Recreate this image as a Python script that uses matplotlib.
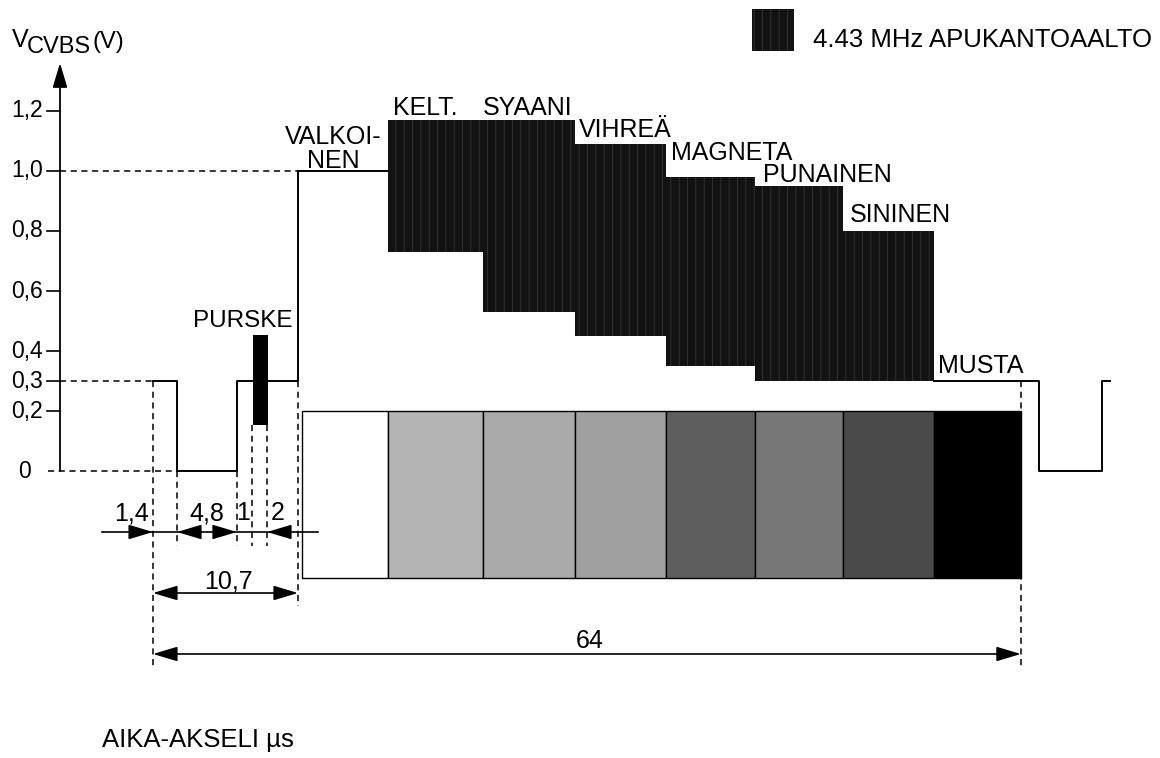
import matplotlib.pyplot as plt
from matplotlib.patches import Rectangle

plt.rcParams['font.family'] = ['Liberation Sans', 'DejaVu Sans']
plt.rcParams['hatch.linewidth'] = 0.5

# color bar signal, time in microseconds, level in volts
bar_names = ['VALKOI-\nNEN', 'KELT.', 'SYAANI', 'VIHREÄ', 'MAGNETA', 'PUNAINEN', 'SININEN', 'MUSTA']
bar_edges = [10.7, 17.3, 24.3, 31.1, 37.8, 44.4, 50.9, 57.6, 64.0]
chroma_top = [None, 1.17, 1.17, 1.09, 0.98, 0.95, 0.80, None]
chroma_bot = [None, 0.73, 0.53, 0.45, 0.35, 0.30, 0.30, None]
box_left = 11.0
box_top, box_bot = 0.2, -0.357

# visible luminance trace (white bar part + line end)
trace1_t = [0.0, 1.77, 1.77, 6.19, 6.19, 10.69, 10.69, 17.3]
trace1_v = [0.3, 0.3, 0.0, 0.0, 0.3, 0.3, 1.0, 1.0]
trace2_t = [57.6, 65.34, 65.34, 69.99, 69.99, 70.58]
trace2_v = [0.3, 0.3, 0.0, 0.0, 0.3, 0.3]

burst_t = (7.35, 8.45)
burst_v = (0.153, 0.453)

ytick_vals = [1.2, 1.0, 0.8, 0.6, 0.4, 0.3, 0.2, 0.0]
ytick_labels = ['1,2', '1,0', '0,8', '0,6', '0,4', '0,3', '0,2', '0']

# timing dimensions
dim_marks = [0.0, 1.77, 6.19, 7.3, 8.41, 10.69]
dim_labels = ['1,4', '4,8', '1', '2']
dim_label_t = [-1.55, 3.98, 6.64, 9.22]
total_line = 64.0

fig = plt.figure(figsize=(11.6, 7.58), dpi=100)
ax = fig.add_axes([0, 0, 1, 1])
ax.axis('off')


def tx(px):
    return (px - 153) / 13.56


def vy(py):
    return (471 - py) / 300


ax.set_xlim(tx(0), tx(1160))
ax.set_ylim(vy(758), vy(0))

fs = 18
ax_x = tx(60)

head = dict(arrowstyle='-|>,head_length=1.5,head_width=0.45', color='black', lw=1.2,
            shrinkA=0, shrinkB=0, mutation_scale=10)
both = dict(head, arrowstyle='<|-|>,head_length=1.5,head_width=0.45')

# y axis with arrow
ax.annotate('', xy=(ax_x, vy(63)), xytext=(ax_x, 0), arrowprops=dict(head, lw=1.3))
for v, lab in zip(ytick_vals, ytick_labels):
    if v > 0:
        ax.plot([tx(47), ax_x], [v, v], color='black', lw=1.2)
    ax.text(tx(27) if v > 0 else tx(24), v, lab, ha='center', va='center', fontsize=16.5)

ax.text(tx(12), vy(47), 'V', fontsize=fs, ha='left', va='baseline')
ax.text(tx(27), vy(53), 'CVBS', fontsize=fs - 1, ha='left', va='baseline')
ax.text(tx(92), vy(48), '(V)', fontsize=fs - 1, ha='left', va='baseline')

# dashed guide lines
dash = dict(color='black', lw=1.1, ls=(0, (4, 3)))
ax.plot([tx(48), 1.77], [0, 0], **dash)
ax.plot([ax_x, 0], [0.3, 0.3], **dash)
ax.plot([ax_x, 10.69], [1.0, 1.0], **dash)
ax.plot([0, 0], [0.3, vy(667)], **dash)
ax.plot([total_line, total_line], [0.3, vy(667)], **dash)
ax.plot([10.69, 10.69], [0.3, vy(606)], **dash)
for t in [1.77, 6.19]:
    ax.plot([t, t], [0, vy(546)], **dash)
for t in [7.3, 8.41]:
    ax.plot([t, t], [burst_v[0], vy(546)], **dash)

# luminance trace
ax.plot(trace1_t, trace1_v, color='black', lw=1.4)
ax.plot(trace2_t, trace2_v, color='black', lw=1.4)

# burst
ax.add_patch(Rectangle((burst_t[0], burst_v[0]), burst_t[1] - burst_t[0],
                       burst_v[1] - burst_v[0], facecolor='black', edgecolor='none', zorder=3))
ax.text(tx(193), vy(327), 'PURSKE', fontsize=fs - 0.5, ha='left', va='baseline')

# chroma blocks (speckled dark)
for i in range(len(bar_names)):
    if chroma_top[i] is None:
        continue
    x0, x1 = bar_edges[i], bar_edges[i + 1]
    ax.add_patch(Rectangle((x0, chroma_bot[i]), x1 - x0, chroma_top[i] - chroma_bot[i],
                           facecolor='#121212', edgecolor='#3c3c3c', lw=0, hatch='||',
                           zorder=2))

# lower colour boxes
box_grey = ['white', '#b4b4b4', '#aaaaaa', '#a0a0a0', '#5e5e5e', '#777777', '#4a4a4a', 'black']
for i in range(len(bar_names)):
    x0 = box_left if i == 0 else bar_edges[i]
    x1 = bar_edges[i + 1]
    ax.add_patch(Rectangle((x0, box_bot), x1 - x0, box_top - box_bot,
                           facecolor=box_grey[i], edgecolor='black', lw=1.0, zorder=2))

# bar names
name_pos = [(333, 168, 'center'), (393, 115, 'left'), (483, 115, 'left'), (579, 137, 'left'),
            (671, 160, 'left'), (763, 182, 'left'), (850, 222, 'left'), (938, 373, 'left')]
for name, (px, py, ha) in zip(bar_names, name_pos):
    ax.text(tx(px), vy(py), name, fontsize=fs, ha=ha, va='baseline', linespacing=1.0,
            multialignment='center')

# legend
ax.add_patch(Rectangle((tx(752), vy(51)), tx(794) - tx(752), vy(9) - vy(51),
                       facecolor='#121212', edgecolor='#3c3c3c', lw=0, hatch='||'))
ax.text(tx(813), vy(47), '4.43 MHz APUKANTOAALTO', fontsize=18.5, ha='left', va='baseline')

# timing dimensions
row1 = vy(532)
ax.plot([tx(102), tx(318)], [row1, row1], color='black', lw=1.2)
for tip, d in zip([dim_marks[0], dim_marks[1], dim_marks[2], dim_marks[4]], [1, -1, 1, -1]):
    ax.annotate('', xy=(tip, row1), xytext=(tip - d * 1.6, row1), arrowprops=head)
for lab, t in zip(dim_labels, dim_label_t):
    ax.text(t, vy(520), lab, fontsize=fs, ha='center', va='baseline')

row2 = vy(593)
ax.annotate('', xy=(dim_marks[-1], row2), xytext=(0, row2), arrowprops=both)
ax.text(tx(228), vy(588), '10,7', fontsize=fs, ha='center', va='baseline')

row3 = vy(654)
ax.annotate('', xy=(total_line, row3), xytext=(0, row3), arrowprops=both)
ax.text(tx(590), vy(648), '64', fontsize=fs, ha='center', va='baseline')

ax.text(tx(102), vy(747), 'AIKA-AKSELI µs', fontsize=18.5, ha='left', va='baseline')

fig.savefig('out.png', dpi=100)
